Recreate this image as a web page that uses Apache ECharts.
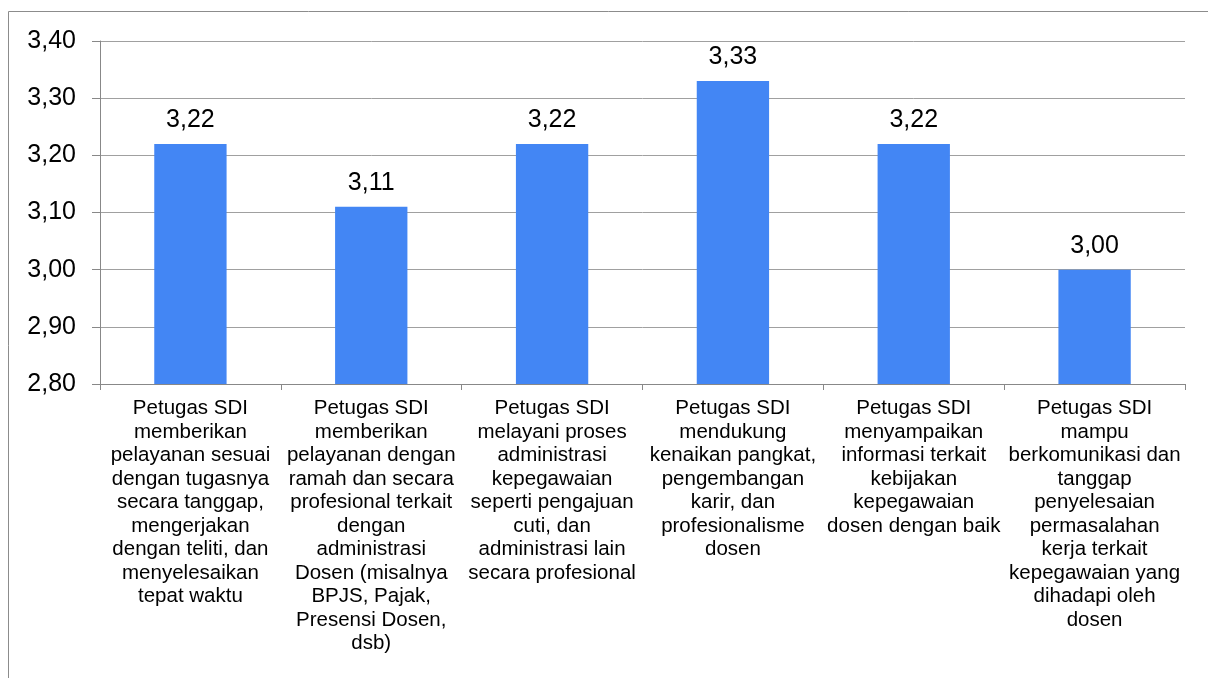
<!DOCTYPE html>
<html><head><meta charset="utf-8">
<script src="https://cdn.jsdelivr.net/npm/echarts@6/dist/echarts.min.js"></script>
<style>html,body{margin:0;padding:0;background:#fff}#c{width:1208px;height:678px}</style>
</head><body><div id="c"></div>
<script>
const categories = [
  "Petugas SDI\nmemberikan\npelayanan sesuai\ndengan tugasnya\nsecara tanggap,\nmengerjakan\ndengan teliti, dan\nmenyelesaikan\ntepat waktu",
  "Petugas SDI\nmemberikan\npelayanan dengan\nramah dan secara\nprofesional terkait\ndengan\nadministrasi\nDosen (misalnya\nBPJS, Pajak,\nPresensi Dosen,\ndsb)",
  "Petugas SDI\nmelayani proses\nadministrasi\nkepegawaian\nseperti pengajuan\ncuti, dan\nadministrasi lain\nsecara profesional",
  "Petugas SDI\nmendukung\nkenaikan pangkat,\npengembangan\nkarir, dan\nprofesionalisme\ndosen",
  "Petugas SDI\nmenyampaikan\ninformasi terkait\nkebijakan\nkepegawaian\ndosen dengan baik",
  "Petugas SDI\nmampu\nberkomunikasi dan\ntanggap\npenyelesaian\npermasalahan\nkerja terkait\nkepegawaian yang\ndihadapi oleh\ndosen"
];
const values = [3.22, 3.11, 3.22, 3.33, 3.22, 3.00];
const yMin = 2.8, yMax = 3.4, yStep = 0.1;

const fmt = v => Number(v).toFixed(2).replace('.', ',');
const FF = 'Liberation Sans, Arial, sans-serif';
const chart = echarts.init(document.getElementById('c'), null, {renderer: 'canvas'});
chart.setOption({
  animation: false,
  textStyle: {fontFamily: FF},
  graphic: [{type: 'rect', shape: {x: 8.5, y: 11.5, width: 1220, height: 700}, style: {fill: 'none', stroke: '#8c8c8c', lineWidth: 1}, silent: true}],
  grid: {left: 100, right: 23, top: 41, bottom: 294},
  xAxis: {
    type: 'category', data: categories,
    axisLine: {lineStyle: {color: '#888'}},
    axisTick: {show: true, length: 6, lineStyle: {color: '#888'}},
    axisLabel: {interval: 0, color: '#000', fontSize: 20.5, lineHeight: 23.5, margin: 13, align: 'center', fontFamily: FF}
  },
  yAxis: {
    type: 'value', min: yMin, max: yMax, interval: yStep,
    axisLine: {show: true, lineStyle: {color: '#888'}},
    axisTick: {show: true, length: 8, lineStyle: {color: '#888'}},
    splitLine: {lineStyle: {color: '#a0a0a0'}},
    axisLabel: {formatter: fmt, color: '#000', fontSize: 25, margin: 24, fontFamily: FF}
  },
  series: [{
    type: 'bar', data: values, barWidth: '40%',
    itemStyle: {color: '#4386f4'},
    label: {show: true, position: 'top', distance: 11, formatter: p => fmt(p.value), color: '#000', fontSize: 25, fontFamily: FF}
  }]
});
</script></body></html>
